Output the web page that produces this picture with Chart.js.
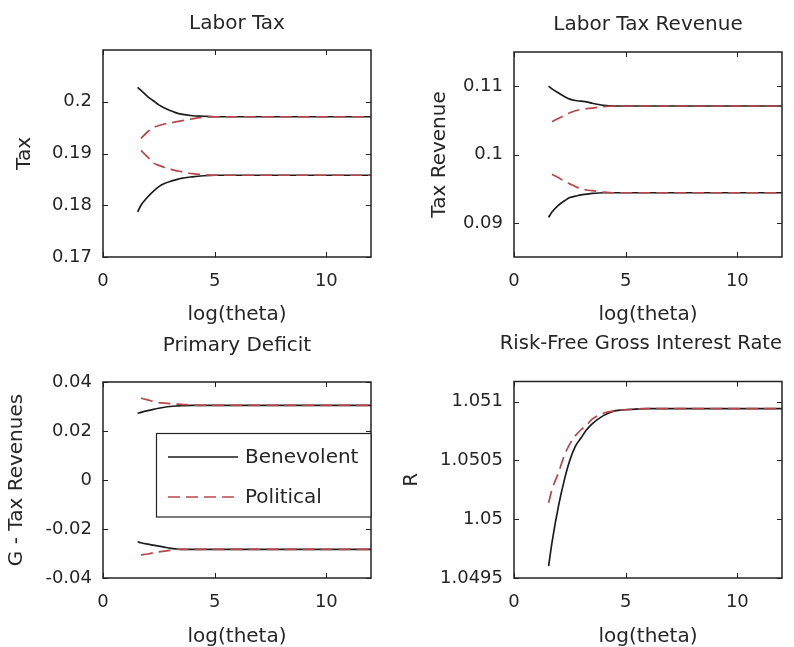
<!DOCTYPE html>
<html><head><meta charset="utf-8">
<script src="https://cdn.jsdelivr.net/npm/chart.js@4.4.1/dist/chart.umd.min.js"></script>
<style>
html,body{margin:0;padding:0;background:#fff;width:794px;height:647px;overflow:hidden}
canvas{position:absolute;left:0;top:0}
</style></head><body>
<canvas id="c1" width="794" height="647"></canvas>
<canvas id="c2" width="794" height="647"></canvas>
<canvas id="c3" width="794" height="647"></canvas>
<canvas id="c4" width="794" height="647"></canvas>
<script>
// ---------- data ----------
const logTheta = [1.55, 1.7, 2, 2.25, 2.5, 2.75, 3, 3.25, 3.5, 4, 4.5, 5, 6, 8, 10, 12];
const xTickValues = [0, 5, 10];

// Labor Tax
const taxBenHigh = [0.2028, 0.2022, 0.2010, 0.2002, 0.1994, 0.1988, 0.1983, 0.1979, 0.1976, 0.1973, 0.1972, 0.1971, 0.1971, 0.1971, 0.1971, 0.1971];
const taxPolHigh = [null, 0.1929, 0.1942, 0.1950, 0.1954, 0.1957, 0.1959, 0.1961, 0.1963, 0.1967, 0.1970, 0.1971, 0.1971, 0.1971, 0.1971, 0.1971];
const taxPolLow  = [null, 0.1906, 0.1893, 0.1882, 0.1877, 0.1873, 0.1870, 0.1867, 0.1865, 0.1861, 0.1859, 0.1858, 0.1858, 0.1858, 0.1858, 0.1858];
const taxBenLow  = [0.1787, 0.1800, 0.1816, 0.1827, 0.1836, 0.1842, 0.1846, 0.1849, 0.1852, 0.1855, 0.1857, 0.1858, 0.1858, 0.1858, 0.1858, 0.1858];
const taxTicks = [0.17, 0.18, 0.19, 0.2];
const taxTickLabels = ['0.17', '0.18', '0.19', '0.2'];

// Labor Tax Revenue
const revBenHigh = [0.1100, 0.1096, 0.1090, 0.1085, 0.1081, 0.1079, 0.1078, 0.1077, 0.1075, 0.1072, 0.1071, 0.1071, 0.1071, 0.1071, 0.1071, 0.1071];
const revPolHigh = [null, 0.1048, 0.1053, 0.1057, 0.1061, 0.1064, 0.1066, 0.1067, 0.1068, 0.1070, 0.1071, 0.1071, 0.1071, 0.1071, 0.1071, 0.1071];
const revPolLow  = [null, 0.0971, 0.0966, 0.0961, 0.0957, 0.0953, 0.0950, 0.0948, 0.0947, 0.0945, 0.0944, 0.0944, 0.0944, 0.0944, 0.0944, 0.0944];
const revBenLow  = [0.0908, 0.0916, 0.0926, 0.0932, 0.0937, 0.0939, 0.0941, 0.0942, 0.0943, 0.0944, 0.0944, 0.0944, 0.0944, 0.0944, 0.0944, 0.0944];
const revTicks = [0.09, 0.1, 0.11];
const revTickLabels = ['0.09', '0.1', '0.11'];

// Primary Deficit
const defBenHigh = [0.0272, 0.0276, 0.0283, 0.0288, 0.0293, 0.0297, 0.0300, 0.0302, 0.0303, 0.0305, 0.0305, 0.0305, 0.0305, 0.0305, 0.0305, 0.0305];
const defPolHigh = [null, 0.0334, 0.0327, 0.0321, 0.0316, 0.0314, 0.0312, 0.0310, 0.0309, 0.0306, 0.0305, 0.0305, 0.0305, 0.0305, 0.0305, 0.0305];
const defPolLow  = [null, -0.0306, -0.0302, -0.0297, -0.0293, -0.0290, -0.0287, -0.0284, -0.0283, -0.0283, -0.0283, -0.0283, -0.0283, -0.0283, -0.0283, -0.0283];
const defBenLow  = [-0.0252, -0.0256, -0.0262, -0.0266, -0.0270, -0.0274, -0.0278, -0.0281, -0.0283, -0.0283, -0.0283, -0.0283, -0.0283, -0.0283, -0.0283, -0.0283];
const defTicks = [-0.04, -0.02, 0, 0.02, 0.04];
const defTickLabels = ['-0.04', '-0.02', '0', '0.02', '0.04'];

// Risk-Free Gross Interest Rate
const rateBen = [1.04960, 1.04980, 1.05012, 1.05033, 1.05050, 1.05062, 1.05069, 1.05076, 1.05081, 1.05088, 1.05092, 1.05093, 1.05094, 1.05094, 1.05094, 1.05094];
const ratePol = [1.05014, 1.05025, 1.05040, 1.05054, 1.05064, 1.05071, 1.05076, 1.05080, 1.05085, 1.05090, 1.05092, 1.05093, 1.05094, 1.05094, 1.05094, 1.05094];
const rateTicks = [1.0495, 1.05, 1.0505, 1.051];
const rateTickLabels = ['1.0495', '1.05', '1.0505', '1.051'];

const seriesNames = ['Benevolent', 'Political'];

// ---------- style ----------
const TXT = '#262626';
const BLACK = '#1c1c1c';
const RED = '#b9474b';
const DASH = [12, 6];
Chart.defaults.font.family = '"DejaVu Sans", sans-serif';
Chart.defaults.color = TXT;

const matlabAxes = {
  id: 'matlabAxes',
  afterDatasetsDraw(chart) {
    const {ctx, chartArea: a, scales: {x, y}} = chart;
    const tl = 5;
    ctx.save();
    ctx.strokeStyle = '#222';
    ctx.lineWidth = 1;
    ctx.beginPath();
    x.ticks.forEach(t => {
      const px = Math.round(x.getPixelForValue(t.value)) + 0.5;
      ctx.moveTo(px, a.bottom); ctx.lineTo(px, a.bottom - tl);
      ctx.moveTo(px, a.top); ctx.lineTo(px, a.top + tl);
    });
    y.ticks.forEach(t => {
      const py = Math.round(y.getPixelForValue(t.value)) + 0.5;
      ctx.moveTo(a.left, py); ctx.lineTo(a.left + tl, py);
      ctx.moveTo(a.right, py); ctx.lineTo(a.right - tl, py);
    });
    ctx.stroke();
    ctx.lineWidth = 1.5;
    ctx.strokeRect(a.left, a.top, a.right - a.left, a.bottom - a.top);
    ctx.restore();
  }
};

const legendBox = {
  id: 'legendBox',
  afterDraw(chart) {
    const {ctx} = chart;
    const ds = chart.data.datasets;
    const ben = ds.find(d => d.label === seriesNames[0]);
    const pol = ds.find(d => d.label === seriesNames[1]);
    ctx.save();
    ctx.fillStyle = '#fff';
    ctx.fillRect(156, 433, 215, 84);
    ctx.strokeStyle = '#222';
    ctx.lineWidth = 1.2;
    ctx.strokeRect(156.5, 433.5, 214.5, 83.5);
    const rows = [[ben, 457], [pol, 497]];
    rows.forEach(([d, yy]) => {
      ctx.beginPath();
      ctx.strokeStyle = d.borderColor;
      ctx.lineWidth = 1.6;
      ctx.setLineDash(d.borderDash || []);
      ctx.moveTo(168, yy); ctx.lineTo(238, yy);
      ctx.stroke();
      ctx.setLineDash([]);
      ctx.fillStyle = TXT;
      ctx.font = '20px "DejaVu Sans", sans-serif';
      ctx.textBaseline = 'middle';
      ctx.textAlign = 'left';
      ctx.fillText(d.label, 245, yy + 1);
    });
    ctx.restore();
  }
};

function mk(label, values, isPol) {
  return {
    label, data: logTheta.map((x, i) => ({x, y: values[i]})),
    borderColor: isPol ? RED : BLACK,
    borderDash: isPol ? DASH : [],
    borderWidth: 1.7, pointRadius: 0, fill: false,
    cubicInterpolationMode: 'monotone', order: isPol ? 1 : 2
  };
}

function panel(id, o) {
  const usePlugin = !!o.pluginTitle;
  return new Chart(document.getElementById(id), {
    type: 'line',
    data: { datasets: o.datasets },
    options: {
      responsive: false, animation: false, devicePixelRatio: 1,
      events: [],
      layout: { padding: o.pad },
      plugins: {
        legend: { display: false }, tooltip: { enabled: false },
        title: { display: usePlugin, text: o.title, color: TXT, align: 'end',
          font: { size: o.titleSize || 20, weight: 'normal', lineHeight: 1 },
          padding: { top: 0, bottom: o.titleGap || 0 } }
      },
      scales: {
        x: {
          type: 'linear', min: 0, max: 12,
          grid: { display: false, drawTicks: false }, border: { display: false },
          afterBuildTicks: s => { s.ticks = xTickValues.map(v => ({value: v})); },
          afterFit: s => { s.height = o.xAxisH; },
          ticks: { padding: 14, color: TXT, font: { size: 18 }, maxRotation: 0, autoSkip: false },
          title: { display: true, text: 'log(theta)', color: TXT,
            font: { size: 20, lineHeight: 1 }, padding: { top: 0, bottom: 0 } }
        },
        titleAxis: {
          type: 'linear', position: 'top', axis: 'x', min: 0, max: 12,
          display: !usePlugin,
          grid: { display: false, drawTicks: false }, border: { display: false },
          afterBuildTicks: s => { s.ticks = []; },
          afterFit: s => { s.height = o.titleH || 0; },
          ticks: { display: false },
          title: { display: !usePlugin, text: o.title, color: TXT,
            font: { size: 20, lineHeight: 1 }, padding: { top: o.titlePad || 0, bottom: 0 } }
        },
        y: {
          type: 'linear', min: o.yMin, max: o.yMax,
          grid: { display: false, drawTicks: false }, border: { display: false },
          afterBuildTicks: s => { s.ticks = o.yTicks.map(v => ({value: v})); },
          afterFit: s => { s.width = o.yAxisW; },
          ticks: { padding: 11, color: TXT, font: { size: 18 }, autoSkip: false,
            callback: (v, i) => o.yLabels[i] },
          title: { display: true, text: o.yTitle, color: TXT,
            font: { size: 20, lineHeight: 1 }, padding: { top: o.yTitlePad, bottom: 0 } }
        }
      }
    },
    plugins: [matlabAxes].concat(o.extra || [])
  });
}

// Labor Tax (top-left)
panel('c1', {
  title: 'Labor Tax', yTitle: 'Tax',
  datasets: [mk(seriesNames[0], taxBenHigh, false), mk(seriesNames[0], taxBenLow, false),
             mk(seriesNames[1], taxPolHigh, true), mk(seriesNames[1], taxPolLow, true)],
  yMin: 0.17, yMax: 0.21, yTicks: taxTicks, yLabels: taxTickLabels,
  pad: { left: 3, right: 423, top: 0, bottom: 322 }, titleH: 50, titlePad: 14,
  yAxisW: 100, yTitlePad: 12, xAxisH: 68
});

// Labor Tax Revenue (top-right)
panel('c2', {
  title: 'Labor Tax Revenue', yTitle: 'Tax Revenue',
  datasets: [mk(seriesNames[0], revBenHigh, false), mk(seriesNames[0], revBenLow, false),
             mk(seriesNames[1], revPolHigh, true), mk(seriesNames[1], revPolLow, true)],
  yMin: 0.085, yMax: 0.115, yTicks: revTicks, yLabels: revTickLabels,
  pad: { left: 394, right: 12, top: 0, bottom: 322 }, titleH: 52, titlePad: 15,
  yAxisW: 120, yTitlePad: 36, xAxisH: 68
});

// Primary Deficit (bottom-left)
panel('c3', {
  title: 'Primary Deficit', yTitle: 'G - Tax Revenues',
  datasets: [mk(seriesNames[0], defBenHigh, false), mk(seriesNames[0], defBenLow, false),
             mk(seriesNames[1], defPolHigh, true), mk(seriesNames[1], defPolLow, true)],
  yMin: -0.04, yMax: 0.04, yTicks: defTicks, yLabels: defTickLabels,
  pad: { left: 3, right: 423, top: 326, bottom: 0 }, titleH: 56, titlePad: 10,
  yAxisW: 100, yTitlePad: 4, xAxisH: 69,
  extra: [legendBox]
});

// Risk-Free Gross Interest Rate (bottom-right)
panel('c4', {
  title: 'Risk-Free Gross Interest Rate', yTitle: 'R', pluginTitle: true,
  titleSize: 19.5, titleGap: 28,
  datasets: [mk(seriesNames[0], rateBen, false), mk(seriesNames[1], ratePol, true)],
  yMin: 1.0495, yMax: 1.05117, yTicks: rateTicks, yLabels: rateTickLabels,
  pad: { left: 394, right: 12, top: 334, bottom: 0 },
  yAxisW: 120, yTitlePad: 8, xAxisH: 69
});
</script>
</body></html>
